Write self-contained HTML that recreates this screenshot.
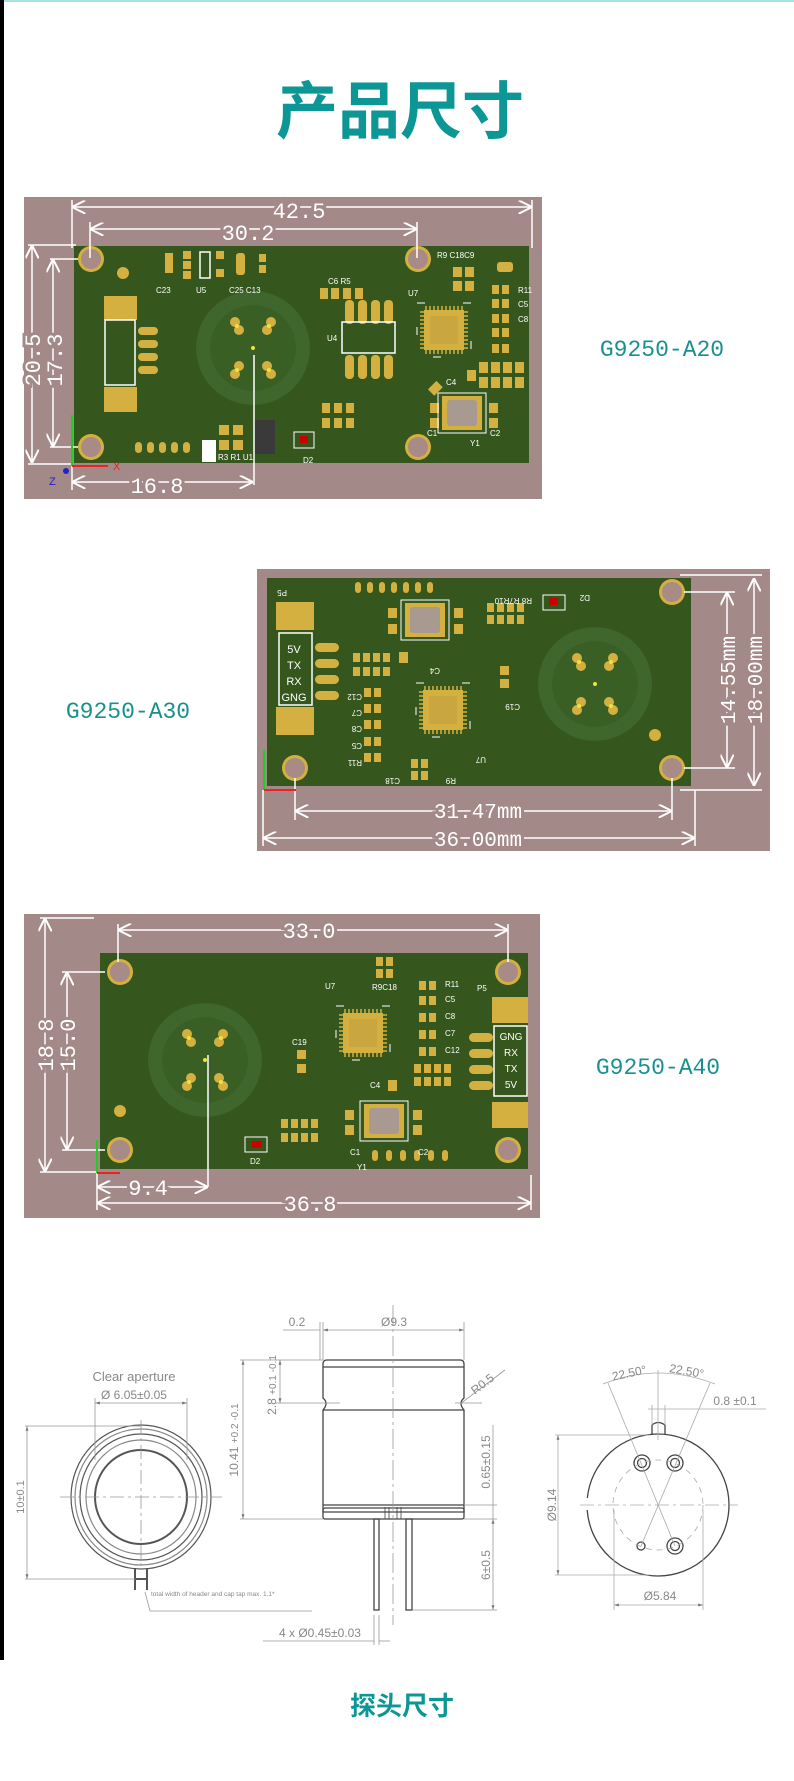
<!DOCTYPE html>
<html><head><meta charset="utf-8"><style>
html,body{margin:0;padding:0;background:#fff}
body{width:794px;height:1781px;position:relative;overflow:hidden}
svg{position:absolute;left:0;top:0}
.t{font-family:"Liberation Sans","Noto Sans CJK SC",sans-serif}
.m{font-family:"Liberation Mono","Noto Sans CJK SC",monospace}
</style></head><body>
<svg width="794" height="1781" viewBox="0 0 794 1781" xmlns="http://www.w3.org/2000/svg">
<defs>
<marker id="a" viewBox="0 0 10 10" refX="10" refY="5" markerWidth="9" markerHeight="9" orient="auto-start-reverse"><path d="M0,0 L10,5 L0,10" fill="none" stroke="#fff" stroke-width="1.5"/></marker>
<marker id="g" viewBox="0 0 10 10" refX="10" refY="5" markerWidth="6" markerHeight="6" orient="auto-start-reverse"><path d="M0,2 L10,5 L0,8z" fill="#777"/></marker>
<g id="hole"><circle r="13" fill="#d4b040"/><circle r="10" fill="#a88a86"/></g>
<g id="chip"><rect x="-27" y="-27" width="54" height="54" fill="none" stroke="#fff" stroke-width="1" stroke-dasharray="8 38"/><rect x="-20" y="-20" width="40" height="40" fill="#d4b040"/><rect x="-14" y="-14" width="28" height="28" fill="#c9a640"/><g stroke="#d4b040" stroke-width="1.5"><path d="M-18,-24v4M-14,-24v4M-10,-24v4M-6,-24v4M-2,-24v4M2,-24v4M6,-24v4M10,-24v4M14,-24v4M18,-24v4M-18,20v4M-14,20v4M-10,20v4M-6,20v4M-2,20v4M2,20v4M6,20v4M10,20v4M14,20v4M18,20v4M-24,-18h4M-24,-14h4M-24,-10h4M-24,-6h4M-24,-2h4M-24,2h4M-24,6h4M-24,10h4M-24,14h4M-24,18h4M20,-18h4M20,-14h4M20,-10h4M20,-6h4M20,-2h4M20,2h4M20,6h4M20,10h4M20,14h4M20,18h4"/></g></g>
<g id="xtal"><rect x="-24" y="-20" width="48" height="40" fill="none" stroke="#fff"/><rect x="-20" y="-17" width="40" height="34" fill="#d4b040"/><rect x="-15" y="-13" width="30" height="26" rx="3" fill="#a89a90"/></g>
<g id="pp"><rect x="0" y="0" width="7" height="9" fill="#d4b040"/><rect x="10" y="0" width="7" height="9" fill="#d4b040"/></g>
<g id="sens"><circle r="56" fill="#3a5f24"/><circle r="50" fill="none" stroke="#41692f" stroke-width="14" opacity=".8"/>
<g fill="#d4b040"><circle cx="-18" cy="-26" r="5"/><circle cx="-14" cy="-18" r="5"/><circle cx="18" cy="-26" r="5"/><circle cx="14" cy="-18" r="5"/><circle cx="-18" cy="26" r="5"/><circle cx="-14" cy="18" r="5"/><circle cx="18" cy="26" r="5"/><circle cx="14" cy="18" r="5"/></g>
<g fill="#f0e040"><circle cx="-16" cy="-22" r="2"/><circle cx="16" cy="-22" r="2"/><circle cx="-16" cy="22" r="2"/><circle cx="16" cy="22" r="2"/><circle r="2"/></g></g>
</defs>
<rect x="0" y="0" width="794" height="2" fill="#a6e2e0"/>
<rect x="0" y="0" width="4" height="1660" fill="#000"/>
<text x="400" y="133" text-anchor="middle" class="t" font-size="62" font-weight="bold" fill="#0d9696">产品尺寸</text>

<!-- PCB1 -->
<rect x="24" y="197" width="518" height="302" fill="#a38988"/>
<rect x="74" y="246" width="455" height="217" fill="#35561c"/>
<use href="#sens" x="253" y="348"/>
<use href="#hole" x="91" y="259"/><use href="#hole" x="418" y="259"/><use href="#hole" x="91" y="447"/><use href="#hole" x="418" y="447"/>
<rect x="104" y="296" width="33" height="24" fill="#d4b040"/><rect x="104" y="387" width="33" height="25" fill="#d4b040"/>
<rect x="105" y="320" width="30" height="65" fill="none" stroke="#fff" stroke-width="1.5"/>
<g fill="#d4b040"><rect x="138" y="327" width="20" height="8" rx="4"/><rect x="138" y="340" width="20" height="8" rx="4"/><rect x="138" y="353" width="20" height="8" rx="4"/><rect x="138" y="366" width="20" height="8" rx="4"/>
<circle cx="123" cy="273" r="6"/>
<rect x="135" y="442" width="7" height="11" rx="3.5"/><rect x="147" y="442" width="7" height="11" rx="3.5"/><rect x="159" y="442" width="7" height="11" rx="3.5"/><rect x="171" y="442" width="7" height="11" rx="3.5"/><rect x="183" y="442" width="7" height="11" rx="3.5"/>
<rect x="165" y="253" width="8" height="20"/><rect x="183" y="251" width="8" height="8"/><rect x="183" y="261" width="8" height="8"/><rect x="183" y="271" width="8" height="8"/><rect x="216" y="251" width="8" height="8"/><rect x="216" y="269" width="8" height="8"/><rect x="236" y="253" width="9" height="22" rx="3"/><rect x="259" y="254" width="7" height="8"/><rect x="259" y="265" width="7" height="8"/>
<rect x="320" y="288" width="8" height="11"/><rect x="331" y="288" width="8" height="11"/><rect x="343" y="288" width="8" height="11"/><rect x="355" y="288" width="8" height="11"/>
<rect x="345" y="300" width="9" height="24" rx="4"/><rect x="358" y="300" width="9" height="24" rx="4"/><rect x="371" y="300" width="9" height="24" rx="4"/><rect x="384" y="300" width="9" height="24" rx="4"/><rect x="345" y="355" width="9" height="24" rx="4"/><rect x="358" y="355" width="9" height="24" rx="4"/><rect x="371" y="355" width="9" height="24" rx="4"/><rect x="384" y="355" width="9" height="24" rx="4"/>
<rect x="497" y="262" width="16" height="10" rx="3"/>
<rect x="322" y="403" width="8" height="10"/><rect x="334" y="403" width="8" height="10"/><rect x="346" y="403" width="8" height="10"/><rect x="322" y="418" width="8" height="10"/><rect x="334" y="418" width="8" height="10"/><rect x="346" y="418" width="8" height="10"/>
<rect x="219" y="425" width="10" height="10"/><rect x="233" y="425" width="10" height="10"/><rect x="219" y="440" width="10" height="10"/><rect x="233" y="440" width="10" height="10"/>
<rect x="430" y="403" width="9" height="10"/><rect x="430" y="418" width="9" height="10"/><rect x="489" y="403" width="9" height="10"/><rect x="489" y="418" width="9" height="10"/>
<rect x="453" y="267" width="9" height="10"/><rect x="465" y="267" width="9" height="10"/><rect x="453" y="281" width="9" height="10"/><rect x="465" y="281" width="9" height="10"/>
<rect x="467" y="370" width="9" height="11"/><rect x="479" y="362" width="9" height="11"/><rect x="491" y="362" width="9" height="11"/><rect x="503" y="362" width="9" height="11"/><rect x="515" y="362" width="9" height="11"/><rect x="479" y="377" width="9" height="11"/><rect x="491" y="377" width="9" height="11"/><rect x="503" y="377" width="9" height="11"/><rect x="515" y="377" width="9" height="11"/>
<rect x="431" y="382" width="9" height="12" transform="rotate(45 435 388)"/></g>
<use href="#pp" x="492" y="285"/><use href="#pp" x="492" y="299"/><use href="#pp" x="492" y="314"/><use href="#pp" x="492" y="328"/><use href="#pp" x="492" y="344"/>
<rect x="202" y="440" width="14" height="22" fill="#fff"/>
<rect x="255" y="420" width="20" height="34" fill="#3a3a3a"/>
<rect x="294" y="432" width="20" height="16" fill="none" stroke="#fff"/><rect x="300" y="436" width="8" height="7" fill="#c00"/>
<rect x="200" y="252" width="10" height="26" fill="none" stroke="#fff" stroke-width="1.5"/>
<rect x="342" y="322" width="53" height="31" fill="none" stroke="#fff" stroke-width="1.5"/>
<use href="#chip" x="444" y="330"/><use href="#xtal" x="462" y="413"/>
<line x1="254" y1="355" x2="254" y2="485" stroke="#fff" stroke-width="1.5"/>
<g class="t" font-size="8" fill="#fff"><text x="156" y="293">C23</text><text x="196" y="293">U5</text><text x="229" y="293">C25 C13</text><text x="328" y="284">C6 R5</text><text x="408" y="296">U7</text><text x="327" y="341">U4</text><text x="437" y="258">R9 C18C9</text><text x="218" y="460">R3 R1 U1</text><text x="303" y="463">D2</text><text x="518" y="293">R11</text><text x="518" y="307">C5</text><text x="518" y="322">C8</text><text x="446" y="385">C4</text><text x="427" y="436">C1</text><text x="470" y="446">Y1</text><text x="490" y="436">C2</text></g>
<g stroke="#fff" stroke-width="1.5" fill="none">
<line x1="72" y1="207" x2="532" y2="207" marker-start="url(#a)" marker-end="url(#a)"/><line x1="72" y1="200" x2="72" y2="248"/><line x1="532" y1="200" x2="532" y2="248"/>
<line x1="90" y1="229" x2="417" y2="229" marker-start="url(#a)" marker-end="url(#a)"/><line x1="90" y1="222" x2="90" y2="258"/><line x1="417" y1="222" x2="417" y2="258"/>
<line x1="32" y1="245" x2="32" y2="463" marker-start="url(#a)" marker-end="url(#a)"/><line x1="28" y1="245" x2="76" y2="245"/><line x1="28" y1="464" x2="72" y2="464"/>
<line x1="53" y1="259" x2="53" y2="447" marker-start="url(#a)" marker-end="url(#a)"/><line x1="50" y1="259" x2="78" y2="259"/><line x1="50" y1="447" x2="78" y2="447"/>
<line x1="72" y1="482" x2="253" y2="482" marker-start="url(#a)" marker-end="url(#a)"/><line x1="72" y1="465" x2="72" y2="490"/></g>
<g class="m" font-size="22" fill="#fff" text-anchor="middle"><text x="299" y="218" style="paint-order:stroke" stroke="#a38988" stroke-width="6">42.5</text><text x="248" y="240" style="paint-order:stroke" stroke="#a38988" stroke-width="6">30.2</text><text x="157" y="493" style="paint-order:stroke" stroke="#a38988" stroke-width="6">16.8</text>
<text transform="translate(40,360) rotate(-90)" style="paint-order:stroke" stroke="#a38988" stroke-width="6">20.5</text><text transform="translate(62,360) rotate(-90)" style="paint-order:stroke" stroke="#a38988" stroke-width="6">17.3</text></g>
<line x1="72" y1="466" x2="72" y2="415" stroke="#2c2" stroke-width="2"/><line x1="72" y1="466" x2="108" y2="466" stroke="#e22" stroke-width="2"/><circle cx="66" cy="471" r="3" fill="#22c"/>
<text x="49" y="485" class="t" font-size="11" fill="#22c">Z</text><text x="113" y="470" class="t" font-size="11" fill="#e22">X</text>
<text x="662" y="356" text-anchor="middle" class="m" font-size="23" fill="#1a8f90">G9250-A20</text>

<!-- PCB2 -->
<rect x="257" y="569" width="513" height="282" fill="#a38988"/>
<rect x="267" y="578" width="424" height="208" fill="#35561c"/>
<use href="#sens" x="595" y="684"/>
<use href="#hole" x="672" y="592"/><use href="#hole" x="672" y="768"/><use href="#hole" x="295" y="768"/>
<rect x="276" y="602" width="38" height="28" fill="#d4b040"/><rect x="276" y="707" width="38" height="28" fill="#d4b040"/>
<rect x="279" y="633" width="33" height="72" fill="none" stroke="#fff" stroke-width="1.5"/>
<g fill="#d4b040"><rect x="315" y="643" width="24" height="9" rx="4.5"/><rect x="315" y="659" width="24" height="9" rx="4.5"/><rect x="315" y="675" width="24" height="9" rx="4.5"/><rect x="315" y="691" width="24" height="9" rx="4.5"/>
<circle cx="655" cy="735" r="6"/>
<rect x="355" y="582" width="6" height="11" rx="3"/><rect x="367" y="582" width="6" height="11" rx="3"/><rect x="379" y="582" width="6" height="11" rx="3"/><rect x="391" y="582" width="6" height="11" rx="3"/><rect x="403" y="582" width="6" height="11" rx="3"/><rect x="415" y="582" width="6" height="11" rx="3"/><rect x="427" y="582" width="6" height="11" rx="3"/>
<rect x="388" y="608" width="9" height="10"/><rect x="388" y="624" width="9" height="10"/><rect x="454" y="608" width="9" height="10"/><rect x="454" y="624" width="9" height="10"/>
<rect x="500" y="666" width="9" height="9"/><rect x="500" y="679" width="9" height="9"/>
<rect x="399" y="652" width="9" height="11"/></g>
<use href="#pp" x="487" y="603"/><use href="#pp" x="507" y="603"/><use href="#pp" x="487" y="615"/><use href="#pp" x="507" y="615"/>
<use href="#pp" x="353" y="653"/><use href="#pp" x="373" y="653"/><use href="#pp" x="353" y="667"/><use href="#pp" x="373" y="667"/>
<use href="#pp" x="364" y="688"/><use href="#pp" x="364" y="704"/><use href="#pp" x="364" y="720"/><use href="#pp" x="364" y="737"/><use href="#pp" x="364" y="753"/>
<use href="#pp" x="411" y="759"/><use href="#pp" x="411" y="771"/>
<rect x="543" y="595" width="22" height="15" fill="none" stroke="#fff"/><rect x="549" y="598" width="9" height="7" fill="#c00"/>
<use href="#chip" x="443" y="710"/><use href="#xtal" x="425" y="620"/>
<g class="t" font-size="11" fill="#fff" text-anchor="middle"><text x="294" y="653">5V</text><text x="294" y="669">TX</text><text x="294" y="685">RX</text><text x="294" y="701">GNG</text></g>
<g class="t" font-size="8" fill="#fff"><text transform="translate(287,590) rotate(180)">P5</text><text transform="translate(590,595) rotate(180)">D2</text><text transform="translate(532,598) rotate(180)">R8 R7R10</text><text transform="translate(520,704) rotate(180)">C19</text><text transform="translate(486,757) rotate(180)">U7</text><text transform="translate(456,778) rotate(180)">R9</text><text transform="translate(400,778) rotate(180)">C18</text><text transform="translate(362,760) rotate(180)">R11</text><text transform="translate(362,743) rotate(180)">C5</text><text transform="translate(362,726) rotate(180)">C8</text><text transform="translate(362,710) rotate(180)">C7</text><text transform="translate(362,694) rotate(180)">C12</text><text transform="translate(440,668) rotate(180)">C4</text></g>
<g stroke="#fff" stroke-width="1.5" fill="none">
<line x1="295" y1="811" x2="672" y2="811" marker-start="url(#a)" marker-end="url(#a)"/><line x1="295" y1="778" x2="295" y2="820"/><line x1="672" y1="778" x2="672" y2="820"/>
<line x1="263" y1="838" x2="695" y2="838" marker-start="url(#a)" marker-end="url(#a)"/><line x1="263" y1="790" x2="263" y2="846"/><line x1="695" y1="790" x2="695" y2="846"/>
<line x1="727" y1="592" x2="727" y2="768" marker-start="url(#a)" marker-end="url(#a)"/><line x1="684" y1="592" x2="735" y2="592"/><line x1="684" y1="768" x2="735" y2="768"/>
<line x1="754" y1="578" x2="754" y2="786" marker-start="url(#a)" marker-end="url(#a)"/><line x1="680" y1="575" x2="762" y2="575"/><line x1="680" y1="790" x2="762" y2="790"/></g>
<g class="m" font-size="21" fill="#fff" text-anchor="middle"><text x="478" y="818" style="paint-order:stroke" stroke="#a38988" stroke-width="6">31.47mm</text><text x="478" y="846" style="paint-order:stroke" stroke="#a38988" stroke-width="6">36.00mm</text>
<text transform="translate(735,680) rotate(-90)" style="paint-order:stroke" stroke="#a38988" stroke-width="6">14.55mm</text><text transform="translate(762,680) rotate(-90)" style="paint-order:stroke" stroke="#a38988" stroke-width="6">18.00mm</text></g>
<line x1="264" y1="790" x2="264" y2="750" stroke="#2c2" stroke-width="2"/><line x1="264" y1="790" x2="296" y2="790" stroke="#e22" stroke-width="2"/>
<text x="128" y="718" text-anchor="middle" class="m" font-size="23" fill="#1a8f90">G9250-A30</text>

<!-- PCB3 -->
<rect x="24" y="914" width="516" height="304" fill="#a38988"/>
<rect x="100" y="953" width="428" height="216" fill="#35561c"/>
<use href="#sens" x="205" y="1060"/>
<use href="#hole" x="120" y="972"/><use href="#hole" x="508" y="972"/><use href="#hole" x="120" y="1150"/><use href="#hole" x="508" y="1150"/>
<rect x="492" y="997" width="36" height="26" fill="#d4b040"/><rect x="492" y="1102" width="36" height="26" fill="#d4b040"/>
<rect x="494" y="1026" width="33" height="70" fill="none" stroke="#fff" stroke-width="1.5"/>
<g fill="#d4b040"><rect x="469" y="1033" width="24" height="9" rx="4.5"/><rect x="469" y="1049" width="24" height="9" rx="4.5"/><rect x="469" y="1065" width="24" height="9" rx="4.5"/><rect x="469" y="1081" width="24" height="9" rx="4.5"/>
<circle cx="120" cy="1111" r="6"/>
<rect x="297" y="1050" width="9" height="9"/><rect x="297" y="1064" width="9" height="9"/>
<rect x="345" y="1110" width="9" height="10"/><rect x="345" y="1125" width="9" height="10"/><rect x="413" y="1110" width="9" height="10"/><rect x="413" y="1125" width="9" height="10"/>
<rect x="388" y="1080" width="9" height="11"/>
<rect x="372" y="1150" width="6" height="11" rx="3"/><rect x="386" y="1150" width="6" height="11" rx="3"/><rect x="400" y="1150" width="6" height="11" rx="3"/><rect x="414" y="1150" width="6" height="11" rx="3"/><rect x="428" y="1150" width="6" height="11" rx="3"/><rect x="442" y="1150" width="6" height="11" rx="3"/></g>
<use href="#pp" x="376" y="957"/><use href="#pp" x="376" y="969"/>
<use href="#pp" x="419" y="981"/><use href="#pp" x="419" y="996"/><use href="#pp" x="419" y="1013"/><use href="#pp" x="419" y="1030"/><use href="#pp" x="419" y="1047"/>
<use href="#pp" x="414" y="1064"/><use href="#pp" x="434" y="1064"/><use href="#pp" x="414" y="1077"/><use href="#pp" x="434" y="1077"/>
<use href="#pp" x="281" y="1119"/><use href="#pp" x="301" y="1119"/><use href="#pp" x="281" y="1133"/><use href="#pp" x="301" y="1133"/>
<rect x="245" y="1137" width="22" height="15" fill="none" stroke="#fff"/><rect x="252" y="1141" width="9" height="7" fill="#c00"/>
<use href="#chip" x="363" y="1033"/><use href="#xtal" x="384" y="1121"/>
<g class="t" font-size="10" fill="#fff" text-anchor="middle"><text x="511" y="1040">GNG</text><text x="511" y="1056">RX</text><text x="511" y="1072">TX</text><text x="511" y="1088">5V</text></g>
<g class="t" font-size="8" fill="#fff"><text x="477" y="991">P5</text><text x="325" y="989">U7</text><text x="372" y="990">R9C18</text><text x="445" y="987">R11</text><text x="445" y="1002">C5</text><text x="445" y="1019">C8</text><text x="445" y="1036">C7</text><text x="445" y="1053">C12</text><text x="292" y="1045">C19</text><text x="370" y="1088">C4</text><text x="250" y="1164">D2</text><text x="350" y="1155">C1</text><text x="418" y="1155">C2</text><text x="357" y="1170">Y1</text></g>
<line x1="208" y1="1055" x2="208" y2="1187" stroke="#fff" stroke-width="1.5"/>
<g stroke="#fff" stroke-width="1.5" fill="none">
<line x1="118" y1="930" x2="508" y2="930" marker-start="url(#a)" marker-end="url(#a)"/><line x1="118" y1="924" x2="118" y2="962"/><line x1="508" y1="924" x2="508" y2="962"/>
<line x1="45" y1="918" x2="45" y2="1172" marker-start="url(#a)" marker-end="url(#a)"/><line x1="40" y1="918" x2="94" y2="918"/><line x1="40" y1="1172" x2="98" y2="1172"/>
<line x1="67" y1="972" x2="67" y2="1150" marker-start="url(#a)" marker-end="url(#a)"/><line x1="62" y1="972" x2="105" y2="972"/><line x1="62" y1="1150" x2="105" y2="1150"/>
<line x1="97" y1="1187" x2="208" y2="1187" marker-start="url(#a)" marker-end="url(#a)"/>
<line x1="97" y1="1203" x2="531" y2="1203" marker-start="url(#a)" marker-end="url(#a)"/><line x1="97" y1="1170" x2="97" y2="1210"/><line x1="531" y1="1175" x2="531" y2="1210"/></g>
<g class="m" font-size="22" fill="#fff" text-anchor="middle"><text x="309" y="938" style="paint-order:stroke" stroke="#a38988" stroke-width="6">33.0</text><text x="148" y="1195" style="paint-order:stroke" stroke="#a38988" stroke-width="6">9.4</text><text x="310" y="1211" style="paint-order:stroke" stroke="#a38988" stroke-width="6">36.8</text>
<text transform="translate(53,1045) rotate(-90)" style="paint-order:stroke" stroke="#a38988" stroke-width="6">18.8</text><text transform="translate(75,1045) rotate(-90)" style="paint-order:stroke" stroke="#a38988" stroke-width="6">15.0</text></g>
<line x1="97" y1="1173" x2="97" y2="1140" stroke="#2c2" stroke-width="2"/><line x1="97" y1="1173" x2="120" y2="1173" stroke="#e22" stroke-width="2"/>
<text x="658" y="1074" text-anchor="middle" class="m" font-size="23" fill="#1a8f90">G9250-A40</text>

<!-- probe drawing -->
<g fill="none" stroke="#555" stroke-width="1.2">
<ellipse cx="141" cy="1497" rx="70" ry="72"/><ellipse cx="141" cy="1497" rx="66" ry="68" stroke="#888"/><ellipse cx="141" cy="1497" rx="61" ry="63"/><ellipse cx="141" cy="1497" rx="55" ry="57" stroke="#888"/><ellipse cx="141" cy="1497" rx="46" ry="47" stroke-width="2"/>
<path d="M135,1568v22M147,1568v22M135,1579h12" stroke-width="2"/>
</g>
<g stroke="#999" stroke-width=".8" fill="none">
<line x1="60" y1="1497" x2="222" y2="1497" stroke-dasharray="14 4 3 4"/><line x1="141" y1="1420" x2="141" y2="1570" stroke-dasharray="14 4 3 4"/>
<line x1="25" y1="1426" x2="141" y2="1426"/><line x1="25" y1="1579" x2="135" y2="1579"/><line x1="27" y1="1426" x2="27" y2="1579" marker-start="url(#g)" marker-end="url(#g)"/>
<line x1="95" y1="1403" x2="187" y2="1403" marker-start="url(#g)" marker-end="url(#g)"/><line x1="95" y1="1398" x2="95" y2="1460"/><line x1="187" y1="1398" x2="187" y2="1460"/>
<path d="M145,1592 L150,1611 L312,1611"/></g>
<g class="t" fill="#888"><text x="134" y="1381" font-size="13" text-anchor="middle">Clear aperture</text><text x="134" y="1399" font-size="12" text-anchor="middle">Ø 6.05±0.05</text><text transform="translate(24,1497) rotate(-90)" font-size="11" text-anchor="middle">10±0.1</text><text x="151" y="1596" font-size="6.5">total width of header and cap tap max. 1.1*</text></g>

<g fill="none" stroke="#444" stroke-width="1.3">
<path d="M327,1360 H460 Q464,1360 464,1364 V1398 Q458,1403 464,1410 V1512 H323 V1410 Q329,1403 323,1398 V1364 Q323,1360 327,1360Z"/>
<line x1="323" y1="1367" x2="464" y2="1367"/><line x1="323" y1="1410" x2="464" y2="1410"/><line x1="323" y1="1505" x2="464" y2="1505"/>
<rect x="323" y="1508" width="141" height="11" rx="2"/>
<rect x="374" y="1519" width="5" height="91"/><rect x="406" y="1519" width="6" height="91"/>
<path d="M385,1507v12M389,1507v12M397,1507v12M401,1507v12" stroke-width=".8"/></g>
<g stroke="#999" stroke-width=".8" fill="none">
<line x1="393" y1="1305" x2="393" y2="1625" stroke-dasharray="20 4 3 4"/>
<line x1="323" y1="1330" x2="464" y2="1330" marker-start="url(#g)" marker-end="url(#g)"/><line x1="323" y1="1322" x2="323" y2="1360"/><line x1="464" y1="1322" x2="464" y2="1360"/><line x1="320" y1="1322" x2="320" y2="1360"/><line x1="283" y1="1330" x2="320" y2="1330"/>
<line x1="243" y1="1360" x2="243" y2="1519" marker-start="url(#g)" marker-end="url(#g)"/><line x1="240" y1="1360" x2="323" y2="1360"/><line x1="240" y1="1519" x2="323" y2="1519"/>
<line x1="280" y1="1360" x2="280" y2="1403" marker-start="url(#g)" marker-end="url(#g)"/><line x1="275" y1="1403" x2="340" y2="1403"/><line x1="455" y1="1403" x2="482" y2="1403"/>
<line x1="493" y1="1505" x2="493" y2="1519"/><line x1="464" y1="1505" x2="497" y2="1505"/><line x1="464" y1="1519" x2="497" y2="1519"/><line x1="493" y1="1425" x2="493" y2="1505"/>
<line x1="493" y1="1519" x2="493" y2="1610" marker-start="url(#g)" marker-end="url(#g)"/><line x1="412" y1="1610" x2="497" y2="1610"/>
<line x1="460" y1="1404" x2="505" y2="1370"/>
<line x1="263" y1="1641" x2="374" y2="1641"/><line x1="374" y1="1615" x2="374" y2="1645"/><line x1="379" y1="1615" x2="379" y2="1645"/><line x1="379" y1="1641" x2="390" y2="1641"/></g>
<g class="t" fill="#888" font-size="12"><text x="297" y="1326" text-anchor="middle">0.2</text><text x="394" y="1326" text-anchor="middle">Ø9.3</text>
<text transform="translate(238,1440) rotate(-90)" text-anchor="middle">10.41 <tspan font-size="10">+0.2 -0.1</tspan></text>
<text transform="translate(276,1385) rotate(-90)" text-anchor="middle">2.8 <tspan font-size="10">+0.1 -0.1</tspan></text>
<text transform="translate(490,1462) rotate(-90)" text-anchor="middle">0.65±0.15</text><text transform="translate(490,1565) rotate(-90)" text-anchor="middle">6±0.5</text>
<text transform="translate(475,1395) rotate(-38)">R0.5</text><text x="320" y="1637" text-anchor="middle">4 x Ø0.45±0.03</text></g>

<g fill="none" stroke="#444" stroke-width="1.3">
<path d="M652,1435 V1425 Q658,1420 665,1425 V1435"/>
<circle cx="658" cy="1505" r="71" stroke-dasharray="390 12" stroke-dashoffset="-230"/>
<circle cx="642" cy="1463" r="8"/><circle cx="642" cy="1463" r="4.5"/><circle cx="675" cy="1463" r="8"/><circle cx="675" cy="1463" r="4.5"/><circle cx="675" cy="1546" r="8"/><circle cx="675" cy="1546" r="4.5"/><circle cx="641" cy="1546" r="4"/></g>
<g stroke="#aaa" stroke-width=".8" fill="none">
<circle cx="658" cy="1505" r="45" stroke-dasharray="6 5"/><line x1="580" y1="1505" x2="738" y2="1505" stroke-dasharray="14 4 3 4"/>
<line x1="608" y1="1383" x2="675" y2="1546"/><line x1="710" y1="1383" x2="641" y2="1546"/><line x1="658" y1="1370" x2="658" y2="1440"/>
<path d="M603,1384 Q658,1362 715,1384"/>
<line x1="648" y1="1409" x2="766" y2="1409"/><line x1="652" y1="1405" x2="652" y2="1425"/><line x1="665" y1="1405" x2="665" y2="1425"/>
<line x1="558" y1="1435" x2="558" y2="1575" marker-start="url(#g)" marker-end="url(#g)"/><line x1="555" y1="1435" x2="650" y2="1435"/><line x1="555" y1="1575" x2="650" y2="1575"/>
<line x1="614" y1="1605" x2="703" y2="1605" marker-start="url(#g)" marker-end="url(#g)"/><line x1="614" y1="1510" x2="614" y2="1610"/><line x1="703" y1="1510" x2="703" y2="1610"/></g>
<g class="t" fill="#888" font-size="12"><text transform="translate(630,1377) rotate(-12)" text-anchor="middle">22.50°</text><text transform="translate(686,1375) rotate(10)" text-anchor="middle">22.50°</text><text x="735" y="1405" text-anchor="middle">0.8 ±0.1</text>
<text transform="translate(556,1505) rotate(-90)" text-anchor="middle">Ø9.14</text><text x="660" y="1600" text-anchor="middle">Ø5.84</text></g>

<text x="402" y="1715" text-anchor="middle" class="t" font-size="26" font-weight="bold" fill="#0d9696">探头尺寸</text>
</svg>
</body></html>
